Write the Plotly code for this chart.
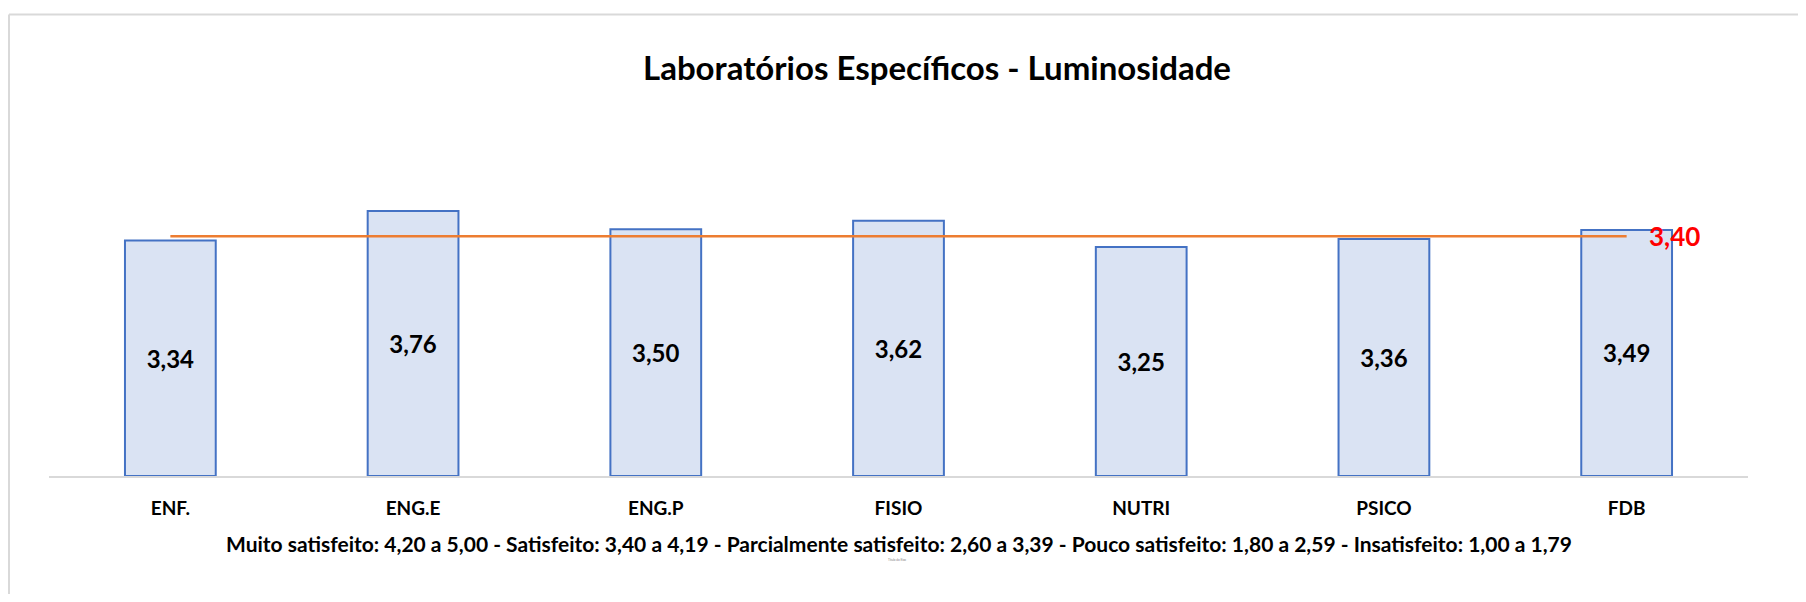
import plotly.graph_objects as go

categories = ["ENF.", "ENG.E", "ENG.P", "FISIO", "NUTRI", "PSICO", "FDB"]
values = [3.34, 3.76, 3.50, 3.62, 3.25, 3.36, 3.49]
reference_value = 3.40
reference_line = [reference_value] * len(categories)
title_text = "Laboratórios Específicos - Luminosidade"
footnote_text = ("Muito satisfeito: 4,20 a 5,00 - Satisfeito: 3,40 a 4,19 - "
                 "Parcialmente satisfeito: 2,60 a 3,39 - Pouco satisfeito: 1,80 a 2,59 - "
                 "Insatisfeito: 1,00 a 1,79")

# page has an 8px body margin; figure sized to fit the window
OFF = 8
W, H = 1806 - 2 * OFF, 602 - 2 * OFF
# plot area in screenshot pixels: x 49..1748, y 194..476
L, R = 49 - OFF, W - (1748 - OFF)
T, B = 194 - OFF, H - (476 - OFF)
pw, ph = W - L - R, H - T - B

def px_x(p):  # screenshot px -> paper x
    return (p - OFF - L) / pw

def px_y(p):  # screenshot px -> paper y
    return (H - B - (p - OFF)) / ph

FONT = "Lato"

fig = go.Figure()
fig.add_trace(go.Bar(
    x=categories, y=values,
    marker=dict(color="#DAE3F3", line=dict(color="#4472C4", width=2)),
    texttemplate="%{y:.2f}", textposition="inside", insidetextanchor="middle",
    textfont=dict(family=FONT, size=24, color="black", weight="bold"),
    textangle=0, cliponaxis=False, showlegend=False,
))
fig.add_trace(go.Scatter(
    x=categories, y=reference_line, mode="lines",
    line=dict(color="#ED7D31", width=2.6), showlegend=False,
))
fig.add_annotation(
    x=categories[-1], y=reference_value, xref="x", yref="y",
    text=f"{reference_value:.2f}".replace(".", ","), showarrow=False,
    xanchor="left", yanchor="middle", xshift=20,
    font=dict(family=FONT, size=26, color="#FF0000", weight="bold"),
)
fig.add_annotation(
    x=px_x(899), y=px_y(543), xref="paper", yref="paper",
    text=footnote_text, showarrow=False, xanchor="center", yanchor="middle",
    font=dict(family=FONT, size=21, color="black", weight="bold"),
)
fig.add_annotation(
    x=px_x(897), y=px_y(560), xref="paper", yref="paper",
    text="Título do Eixo", showarrow=False, xanchor="center", yanchor="middle",
    font=dict(family=FONT, size=3, color="#7f7f7f"),
)
# chart frame (light grey border, top and left)
fig.add_shape(type="line", xref="paper", yref="paper",
              x0=px_x(9), x1=px_x(1830), y0=px_y(14.5), y1=px_y(14.5),
              line=dict(color="#D9D9D9", width=2))
fig.add_shape(type="line", xref="paper", yref="paper",
              x0=px_x(9), x1=px_x(9), y0=px_y(14.5), y1=px_y(640),
              line=dict(color="#D9D9D9", width=2))

fig.update_layout(
    width=W, height=H,
    margin=dict(l=L, r=R, t=T, b=B, pad=0),
    paper_bgcolor="white", plot_bgcolor="white",
    separators=",.",
    bargap=0.626,
    title=dict(text=title_text, x=px_x(937), xref="paper", xanchor="center",
               y=1 - (68 - OFF) / H, yref="container", yanchor="middle",
               font=dict(family=FONT, size=33, color="black", weight="bold")),
    xaxis=dict(showline=True, linecolor="#D9D9D9", linewidth=2, ticks="",
               showgrid=False, zeroline=False, ticklabelstandoff=14,
               tickfont=dict(family=FONT, size=19, color="black", weight="bold")),
    yaxis=dict(range=[0, 4], visible=False, showgrid=False, zeroline=False),
)

fig.write_html("out.html")
